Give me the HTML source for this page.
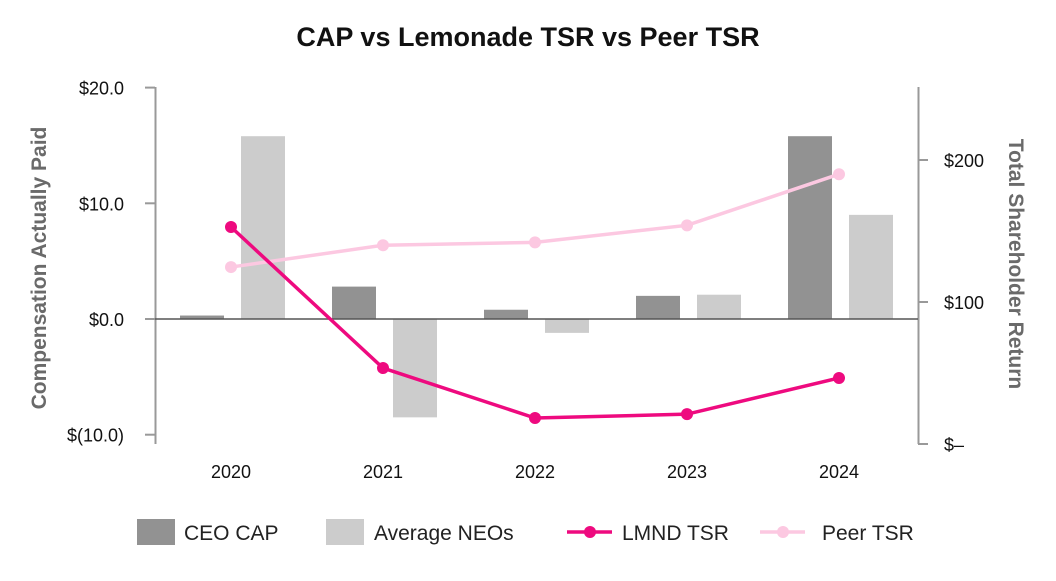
<!DOCTYPE html>
<html><head><meta charset="utf-8"><style>
body{margin:0;background:#fff;font-family:"Liberation Sans",sans-serif}
svg text{font-family:"Liberation Sans",sans-serif}
</style></head><body>
<svg width="1056" height="576" viewBox="0 0 1056 576">
<text x="528" y="46" text-anchor="middle" font-size="27" font-weight="bold" fill="#111">CAP vs Lemonade TSR vs Peer TSR</text>
<g id="plot"></g>
<text transform="translate(46,268) rotate(-90)" text-anchor="middle" font-size="21" font-weight="bold" fill="#6a6a6a">Compensation Actually Paid</text>
<text transform="translate(1009,264) rotate(90)" text-anchor="middle" font-size="21" font-weight="bold" fill="#6a6a6a">Total Shareholder Return</text>
<g>
<rect x="137" y="519" width="38" height="26" fill="#929292"/>
<text x="184" y="540" font-size="21" fill="#222">CEO CAP</text>
<rect x="326" y="519" width="38" height="26" fill="#cccccc"/>
<text x="374" y="540" font-size="21" fill="#222">Average NEOs</text>
<line x1="567" y1="532" x2="612" y2="532" stroke="#ee0a7f" stroke-width="3.5"/>
<circle cx="590" cy="532" r="6" fill="#ee0a7f"/>
<text x="622" y="540" font-size="21" fill="#222">LMND TSR</text>
<line x1="760" y1="532" x2="805" y2="532" stroke="#fcc8e1" stroke-width="3.5"/>
<circle cx="783" cy="532" r="6" fill="#fcc8e1"/>
<text x="822" y="540" font-size="21" fill="#222">Peer TSR</text>
</g>
</svg>
<script>
const years = ["2020","2021","2022","2023","2024"];
const ceoCap = [0.3, 2.8, 0.8, 2.0, 15.8];
const neoCap = [15.8, -8.5, -1.2, 2.1, 9.0];
const lmndTsr = [152.8, 53.5, 18.3, 21.0, 46.5];
const peerTsr = [124.6, 140.0, 142.0, 154.0, 190.0];
const leftTicks = [20, 10, 0, -10];
const leftTickLabels = ["$20.0","$10.0","$0.0","$(10.0)"];
const rightTicks = [200, 100, 0];
const rightTickLabels = ["$200","$100","$–"];

const NS="http://www.w3.org/2000/svg";
const g=document.getElementById('plot');
function yL(v){return 319 - v*11.57;}
function yR(v){return 444 - v*1.42;}
function xC(i){return 231 + i*152;}
function mk(tag,attrs,txt){const e=document.createElementNS(NS,tag);for(const k in attrs)e.setAttribute(k,attrs[k]);if(txt!==undefined)e.textContent=txt;g.appendChild(e);return e;}

let e=mk('line',{x1:155.5,y1:87,x2:155.5,y2:444,stroke:'#999','stroke-width':2});


e=mk('line',{x1:918.5,y1:87,x2:918.5,y2:444,stroke:'#999','stroke-width':2});


leftTicks.forEach((t,i)=>{
  e=mk('line',{x1:145,y1:yL(t),x2:155,y2:yL(t),stroke:'#999','stroke-width':2});
  
  
  e=mk('text',{x:124,y:yL(t)+7,'text-anchor':'end','font-size':18,fill:'#111'},leftTickLabels[i]);
  
  
});
rightTicks.forEach((t,i)=>{
  e=mk('line',{x1:918,y1:yR(t),x2:928,y2:yR(t),stroke:'#999','stroke-width':2});
  
  
  e=mk('text',{x:944,y:yR(t)+7,'font-size':18,fill:'#111'},rightTickLabels[i]);
  
  
});
years.forEach((y,i)=>{
  e=mk('text',{x:xC(i),y:478,'text-anchor':'middle','font-size':18,fill:'#111'},y);
  
  
});
function bar(v,cx,col,name){
  const y0=yL(0),y1=yL(v);
  const r=mk('rect',{x:cx-22,y:Math.min(y0,y1),width:44,height:Math.max(1,Math.abs(y1-y0)),fill:col});
  
  
}
years.forEach((y,i)=>{
  bar(ceoCap[i],xC(i)-29,'#929292','ceo-cap-bar-'+y);
  bar(neoCap[i],xC(i)+32,'#cccccc','neo-bar-'+y);
});
e=mk('line',{x1:155,y1:yL(0),x2:918,y2:yL(0),stroke:'#555','stroke-width':1.5});


function series(vals,col,name){
  const pts=vals.map((v,i)=>xC(i)+','+yR(v)).join(' ');
  const p=mk('polyline',{points:pts,fill:'none',stroke:col,'stroke-width':3.5});
  
  
  vals.forEach((v,i)=>{
    const c=mk('circle',{cx:xC(i),cy:yR(v),r:6,fill:col});
    
    
  });
}
series(peerTsr,'#fcc8e1','peer-tsr');
series(lmndTsr,'#ee0a7f','lmnd-tsr');
</script>
</body></html>
